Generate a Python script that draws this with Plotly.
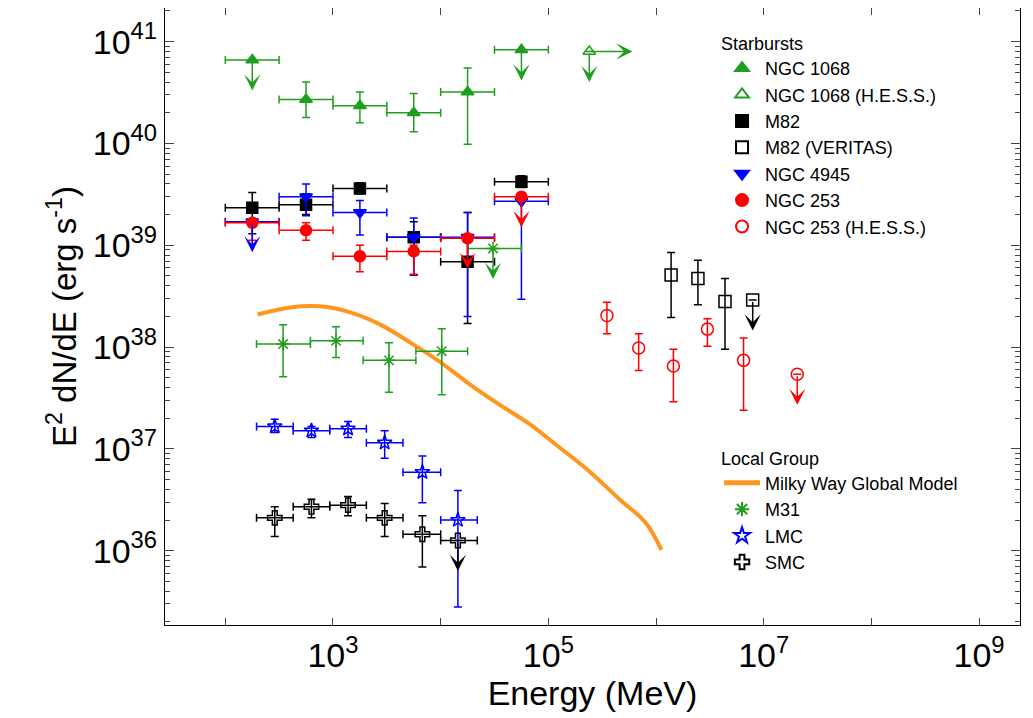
"""Gamma-ray luminosity of starburst and Local Group galaxies."""

import numpy as np
import plotly.graph_objects as go

# ---- data (energies in MeV, E^2 dN/dE in erg/s) ----
# Fermi-LAT half-decade bins used for the starbursts
sb_e = [178, 562, 1778, 5623, 17783, 56234]
sb_lo = [100, 316, 1000, 3162, 10000, 31623]
sb_hi = [316, 1000, 3162, 10000, 31623, 100000]

ngc1068_f = [6.6e40, 2.7e40, 2.35e40, 2.0e40, 3.2e40, 8.3e40]
ngc1068_up = [0, 4.0e40, 3.2e40, 3.1e40, 5.5e40, 0]
ngc1068_dn = [0, 1.8e40, 1.6e40, 1.3e40, 9.8e39, 0]
ngc1068_ul = [True, False, False, False, False, True]

ngc1068_hess_e = [2.4e5]
ngc1068_hess_f = [8.0e40]

m82_f = [2.34e39, 2.5e39, 3.6e39, 1.2e39, 6.9e38, 4.2e39]
m82_up = [3.3e39, 3.2e39, 4.1e39, 1.7e39, 2.1e39, 4.8e39]
m82_dn = [1.3e39, 2.0e39, 3.2e39, 5.1e38, 1.7e38, 3.7e39]

veritas_e = [1.38e6, 2.45e6, 4.37e6, 7.9e6]
veritas_f = [5.1e38, 4.7e38, 2.8e38, 2.9e38]
veritas_up = [8.5e38, 7.1e38, 4.7e38, 0]
veritas_dn = [1.95e38, 2.6e38, 9.5e37, 0]
veritas_ul = [False, False, False, True]

ngc4945_f = [1.7e39, 3.0e39, 2.1e39, 1.2e39, 1.2e39, 2.7e39]
ngc4945_up = [0, 4.0e39, 2.75e39, 1.85e39, 2.1e39, 3.0e39]
ngc4945_dn = [0, 1.95e39, 1.26e39, 5.1e38, 2.0e38, 2.95e38]
ngc4945_ul = [True, False, False, False, False, False]

ngc253_f = [1.66e39, 1.4e39, 7.8e38, 8.7e38, 1.17e39, 3.0e39]
ngc253_up = [1.8e39, 1.66e39, 1.0e39, 1.0e39, 0, 0]
ngc253_dn = [1.12e39, 1.12e39, 5.5e38, 5.2e38, 0, 0]
ngc253_ul = [False, False, False, False, True, True]

hess253_e = [3.5e5, 6.9e5, 1.45e6, 3.0e6, 6.5e6, 2.05e7]
hess253_f = [2.04e38, 9.8e37, 6.5e37, 1.5e38, 7.4e37, 5.4e37]
hess253_up = [2.75e38, 1.35e38, 9.5e37, 1.9e38, 1.23e38, 0]
hess253_dn = [1.35e38, 5.9e37, 2.9e37, 1.02e38, 2.4e37, 0]
hess253_ul = [False, False, False, False, False, True]

# Local Group
m31_e = [344, 1067, 3311, 10233, 30620]
m31_lo = [195, 617, 1905, 5888, 17783]
m31_hi = [617, 1905, 5888, 17783, 56234]
m31_f = [1.07e38, 1.15e38, 7.4e37, 9.1e37, 9.3e38]
m31_up = [1.66e38, 1.58e38, 1.1e38, 1.51e38, 0]
m31_dn = [5.1e37, 7.9e37, 3.6e37, 3.4e37, 0]
m31_ul = [False, False, False, False, True]

mc_e = [288, 631, 1380, 3020, 6761, 14454]
mc_lo = [195, 427, 933, 2042, 4467, 10000]
mc_hi = [427, 933, 2042, 4467, 10000, 21878]

lmc_f = [1.66e37, 1.51e37, 1.58e37, 1.15e37, 5.9e36, 2.0e36]
lmc_up = [1.95e37, 1.66e37, 1.86e37, 1.51e37, 8.5e36, 3.9e36]
lmc_dn = [1.45e37, 1.29e37, 1.29e37, 8.1e36, 2.95e36, 2.8e35]

smc_f = [2.1e36, 2.7e36, 2.8e36, 2.1e36, 1.45e36, 1.26e36]
smc_up = [2.7e36, 3.2e36, 3.4e36, 2.9e36, 2.2e36, 0]
smc_dn = [1.38e36, 2.1e36, 2.2e36, 1.38e36, 6.9e35, 0]
smc_ul = [False, False, False, False, False, True]

mw_e = [200, 398, 759, 1445, 2754, 5129, 9772, 18621, 35481, 67608,
        128825, 245471, 457088, 794328, 1122018]
mw_f = [2.09e38, 2.45e38, 2.51e38, 2.19e38, 1.66e38, 1.12e38, 7.2e37,
        4.3e37, 2.7e37, 1.74e37, 1.02e37, 5.9e36, 3.2e36, 1.9e36, 1.02e36]

GREEN = '#1f9e1f'
BLUE = '#0000ff'
RED = '#ff0000'
BLACK = '#000000'
ORANGE = '#ff961e'

fig = go.Figure()
arrows = []


def add_points(name, e, f, color, symbol, size, legend, up=None, dn=None,
               lo=None, hi=None, ul=None):
    """Add one series with error bars; upper limits get a downward arrow."""
    e = np.array(e, float)
    f = np.array(f, float)
    n = len(f)
    ul = np.array(ul if ul is not None else [False] * n)
    err_y = None
    if up is not None:
        ey_p = np.where(ul, 0, np.array(up, float) - f)
        ey_m = np.where(ul, 0, f - np.array(dn, float))
        err_y = dict(type='data', symmetric=False, array=ey_p, arrayminus=ey_m,
                     color=color, thickness=1.5, width=4)
    err_x = None
    if lo is not None:
        err_x = dict(type='data', symmetric=False,
                     array=np.array(hi, float) - e,
                     arrayminus=e - np.array(lo, float), color=color,
                     thickness=1.5, width=4)
    fig.add_trace(go.Scatter(
        x=e, y=f, mode='markers', name=name, legend=legend,
        marker=dict(color=color, symbol=symbol, size=size,
                    line=dict(color=color, width=1.5)),
        error_x=err_x, error_y=err_y))
    for xi, yi, u in zip(e, f, ul):
        if u:
            arrows.append(dict(x=float(np.log10(xi)),
                               y=float(np.log10(yi)) - 0.3, color=color))


add_points('NGC 1068', sb_e, ngc1068_f, GREEN, 'triangle-up', 11, 'legend',
           ngc1068_up, ngc1068_dn, sb_lo, sb_hi, ngc1068_ul)
add_points('NGC 1068 (H.E.S.S.)', ngc1068_hess_e, ngc1068_hess_f, GREEN,
           'triangle-up-open', 11, 'legend', [0], [0], ul=[True])
add_points('M82', sb_e, m82_f, BLACK, 'square', 11, 'legend',
           m82_up, m82_dn, sb_lo, sb_hi)
add_points('M82 (VERITAS)', veritas_e, veritas_f, BLACK, 'square-open', 12,
           'legend', veritas_up, veritas_dn, ul=veritas_ul)
add_points('NGC 4945', sb_e, ngc4945_f, BLUE, 'triangle-down', 11, 'legend',
           ngc4945_up, ngc4945_dn, sb_lo, sb_hi, ngc4945_ul)
add_points('NGC 253', sb_e, ngc253_f, RED, 'circle', 11, 'legend',
           ngc253_up, ngc253_dn, sb_lo, sb_hi, ngc253_ul)
add_points('NGC 253 (H.E.S.S.)', hess253_e, hess253_f, RED, 'circle-open', 12,
           'legend', hess253_up, hess253_dn, ul=hess253_ul)

fig.add_trace(go.Scatter(x=mw_e, y=mw_f, mode='lines', legend='legend2',
                         name='Milky Way Global Model',
                         line=dict(color=ORANGE, width=4, shape='spline')))
add_points('M31', m31_e, m31_f, GREEN, 'asterisk-open', 11, 'legend2',
           m31_up, m31_dn, m31_lo, m31_hi, m31_ul)
add_points('LMC', mc_e, lmc_f, BLUE, 'star-open', 11, 'legend2',
           lmc_up, lmc_dn, mc_lo, mc_hi)
add_points('SMC', mc_e, smc_f, BLACK, 'cross-open', 12, 'legend2',
           smc_up, smc_dn, mc_lo, mc_hi, smc_ul)

# horizontal arrow on the NGC 1068 H.E.S.S. limit
fig.add_annotation(x=float(np.log10(ngc1068_hess_e[0])) + 0.4,
                   y=float(np.log10(ngc1068_hess_f[0])), ax=-44, ay=0,
                   showarrow=True, arrowhead=3, arrowwidth=1.5, arrowsize=1.8,
                   arrowcolor=GREEN, text='')
for a in arrows:
    fig.add_annotation(x=a['x'], y=a['y'], ax=0, ay=-30, text='',
                       showarrow=True, arrowhead=3, arrowwidth=1.5,
                       arrowsize=1.8, arrowcolor=a['color'])

decades = list(range(1, 10))
fig.update_xaxes(type='log', range=[1.44, 9.38], tickmode='array',
                 tickvals=[10.0 ** d for d in decades],
                 ticktext=['10<sup>%d</sup>' % d if d % 2 else '' for d in decades],
                 ticks='inside', ticklen=7, mirror='ticks', showline=True,
                 linecolor='black', linewidth=1.2, showgrid=False, zeroline=False,
                 automargin=False,
                 title=dict(text='Energy (MeV)', font=dict(size=34), standoff=0),
                 tickfont=dict(size=34))
fig.update_yaxes(type='log', range=[35.27, 41.33], tickmode='array',
                 tickvals=[10.0 ** d for d in range(36, 42)],
                 ticktext=['10<sup>%d</sup>' % d for d in range(36, 42)],
                 ticks='inside', ticklen=9, mirror='ticks', showline=True,
                 linecolor='black', linewidth=1.2, showgrid=False, zeroline=False,
                 automargin=False,
                 minor=dict(ticks='inside', ticklen=5, dtick='D1', showgrid=False),
                 title=dict(text='E<sup>2</sup> dN/dE (erg s<sup>-1</sup>)',
                            font=dict(size=33), standoff=6),
                 tickfont=dict(size=34))

legend_style = dict(font=dict(size=18, color='black'), bgcolor='rgba(0,0,0,0)',
                    tracegroupgap=0, itemsizing='constant', xanchor='left',
                    yanchor='top', itemwidth=36)
fig.update_layout(
    width=1033, height=718,
    margin=dict(l=157, r=21, t=0, b=101, autoexpand=False),
    plot_bgcolor='white', paper_bgcolor='white',
    font=dict(family='Liberation Sans, Arial, sans-serif', color='black'),
    legend=dict(x=0.648, y=0.97, title=dict(text='Starbursts', font=dict(size=18)),
                **legend_style),
    legend2=dict(x=0.648, y=0.298, title=dict(text='Local Group', font=dict(size=18)),
                 **legend_style),
)

fig.write_html("out.html")
